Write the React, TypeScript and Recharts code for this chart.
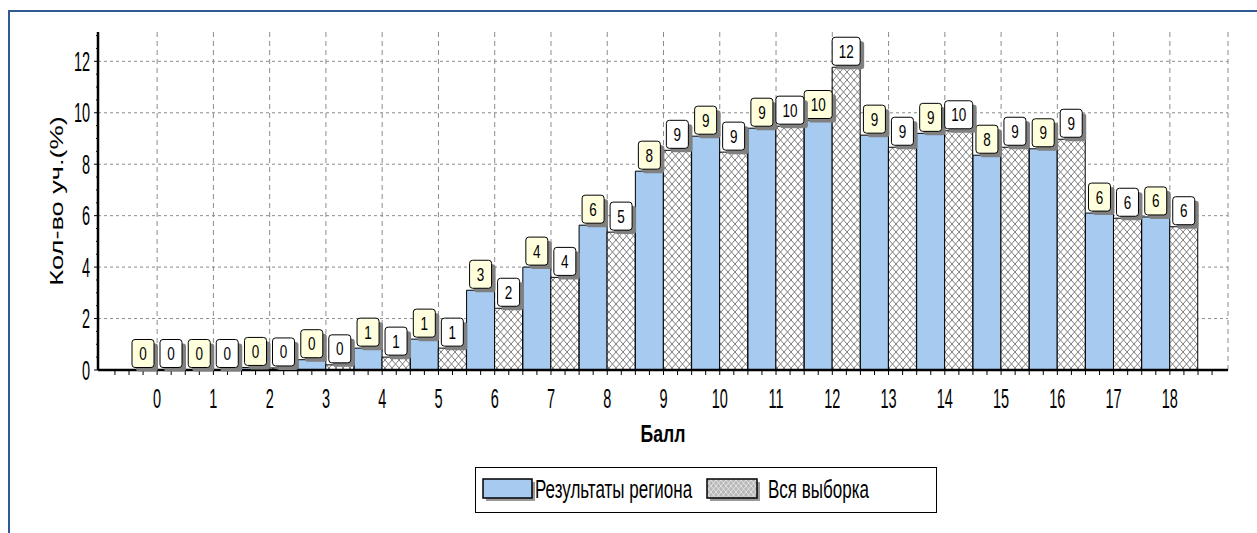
import React from "react";
import { BarChart, Bar, XAxis, YAxis, CartesianGrid, LabelList, Label } from "recharts";

const scores = ["0", "1", "2", "3", "4", "5", "6", "7", "8", "9", "10", "11", "12", "13", "14", "15", "16", "17", "18"];
const regionResults = [0.02, 0.02, 0.1, 0.4, 0.85, 1.2, 3.1, 4.0, 5.63, 7.73, 9.09, 9.4, 9.7, 9.13, 9.2, 8.35, 8.6, 6.1, 5.95];
const wholeSample = [0.02, 0.02, 0.08, 0.2, 0.5, 0.85, 2.4, 3.6, 5.36, 8.54, 8.47, 9.48, 11.77, 8.66, 9.3, 8.66, 8.97, 5.9, 5.57];
const regionLabels = [0, 0, 0, 0, 1, 1, 3, 4, 6, 8, 9, 9, 10, 9, 9, 8, 9, 6, 6];
const sampleLabels = [0, 0, 0, 0, 1, 1, 2, 4, 5, 9, 9, 10, 12, 9, 10, 9, 9, 6, 6];
const yTicks = [0, 2, 4, 6, 8, 10, 12];
const yAllTicks = [0, 0.5, 1, 1.5, 2, 2.5, 3, 3.5, 4, 4.5, 5, 5.5, 6, 6.5, 7, 7.5, 8, 8.5, 9, 9.5, 10, 10.5, 11, 11.5, 12, 12.5, 13];

const data = scores.map((score, i) => ({
  score,
  region: regionResults[i],
  sample: wholeSample[i],
  regionLabel: regionLabels[i],
  sampleLabel: sampleLabels[i],
}));

const W = 1257;
const H = 533;
const MARGIN = { top: 32, right: 29, bottom: 83, left: 0 };
const Y_AXIS_W = 98;
const X_AXIS_H = 80;
const X_PAD = { left: 31, right: 30 };
const BAND = (W - MARGIN.right - Y_AXIS_W - X_PAD.left - X_PAD.right) / scores.length;
const FONT = '"Liberation Sans", Arial, sans-serif';
const BLUE = "#A6CAF0";

function StretchText({ x, y, sx = 1, sy = 1, size, anchor = "middle", weight = "normal", children }: any) {
  return (
    <text
      transform={`translate(${x},${y}) scale(${sx},${sy})`}
      textAnchor={anchor}
      fontSize={size}
      fontWeight={weight}
      fontFamily={FONT}
      fill="#000"
    >
      {children}
    </text>
  );
}

function XTick(props: any) {
  const { x, y, payload } = props;
  const axisY = y - 7;
  const steps = payload.value === scores[0] ? [-3, -2, -1, 0, 1, 2, 3] : [0, 1, 2, 3];
  return (
    <g>
      {steps.map((k) => (
        <line key={k} x1={x + (k * BAND) / 4} x2={x + (k * BAND) / 4} y1={axisY} y2={axisY + 5} stroke="#000" />
      ))}
      <StretchText x={x} y={axisY + 38} sy={1.85} size={14.5}>
        {payload.value}
      </StretchText>
    </g>
  );
}

function YTick(props: any) {
  const { x, y, payload } = props;
  const axisX = x + 6;
  const major = yTicks.includes(payload.value);
  return (
    <g>
      <line x1={axisX - (major ? 4 : 2)} x2={axisX} y1={y} y2={y} stroke="#000" />
      {major && (
        <StretchText x={axisX - 8} y={y + 9.6} sy={1.85} size={14.5} anchor="end">
          {payload.value}
        </StretchText>
      )}
    </g>
  );
}

function YTitle(props: any) {
  const vb = props.viewBox;
  return (
    <text
      transform={`translate(${vb.x + 63},${vb.y + vb.height / 2}) rotate(-90) scale(1.43,1)`}
      textAnchor="middle"
      fontSize={19}
      fontFamily={FONT}
      fill="#000"
    >
      Кол-во уч.(%)
    </text>
  );
}

function XTitle(props: any) {
  const vb = props.viewBox;
  return (
    <StretchText x={vb.x + vb.width / 2} y={vb.y + 72} sy={1.35} size={17.6} weight="bold">
      Балл
    </StretchText>
  );
}

const valueBox = (fill: string) => (props: any) => {
  const vb = props.viewBox || {};
  const x = props.x ?? vb.x;
  const y = props.y ?? vb.y;
  const width = props.width ?? vb.width;
  const value = props.value;
  const w = String(value).length > 1 ? 28 : 22;
  const h = 28;
  const bx = x + width / 2 - w / 2;
  const by = y - h - 2;
  return (
    <g>
      <rect x={bx + 4} y={by + 4} width={w} height={h} rx={3} fill="#808080" />
      <rect x={bx} y={by} width={w} height={h} rx={3} fill={fill} stroke="#000" strokeWidth={1} />
      <StretchText x={bx + w / 2} y={by + 20.5} sy={1.35} size={13.5}>
        {value}
      </StretchText>
    </g>
  );
};

function LegendBox() {
  return (
    <div
      style={{
        position: "absolute",
        left: 475,
        top: 467,
        width: 462,
        height: 46,
        border: "1px solid #000",
        boxSizing: "border-box",
        background: "#fff",
      }}
    >
      <svg width={460} height={44} style={{ display: "block" }}>
        <defs>
          <pattern id="legendHatch" width="5" height="6" patternUnits="userSpaceOnUse">
            <rect width="5" height="6" fill="#b8b8b8" />
            <path d="M0,0 L5,6 M5,0 L0,6" stroke="#e2e2e2" strokeWidth="1" />
          </pattern>
        </defs>
        <rect x={10} y={14} width={49} height={19} fill="#9a9a9a" />
        <rect x={7} y={11} width={49} height={19} fill={BLUE} stroke="#000" strokeWidth={1.5} />
        <StretchText x={59} y={30} sy={1.48} size={17} anchor="start">
          Результаты региона
        </StretchText>
        <rect x={234} y={14} width={50} height={19} fill="#9a9a9a" />
        <rect x={231} y={11} width={50} height={19} fill="url(#legendHatch)" stroke="#000" strokeWidth={1.5} />
        <StretchText x={292} y={30} sy={1.48} size={17} anchor="start">
          Вся выборка
        </StretchText>
      </svg>
    </div>
  );
}

export default function App() {
  return (
    <div style={{ position: "absolute", left: 0, top: 0, width: W, height: H, background: "#fff", overflow: "hidden" }}>
      <div
        style={{
          position: "absolute",
          left: 8,
          top: 10,
          width: W - 8,
          height: H - 10,
          borderTop: "2.5px solid #2F5A96",
          borderLeft: "2.5px solid #2F5A96",
          boxSizing: "border-box",
        }}
      />
      <div style={{ position: "absolute", left: 0, top: 0 }}>
        <BarChart width={W} height={H} data={data} margin={MARGIN} barCategoryGap={0} barGap={0}>
          <defs>
            <pattern id="crossHatch" width="7" height="8" patternUnits="userSpaceOnUse">
              <rect width="7" height="8" fill="#fff" />
              <path d="M0,0 L7,8 M7,0 L0,8" stroke="#7d7d7d" strokeWidth="1" />
            </pattern>
          </defs>
          <CartesianGrid vertical={false} strokeDasharray="3 3" stroke="#8c8c8c" horizontalValues={yTicks} />
          <CartesianGrid horizontal={false} strokeDasharray="5 4" stroke="#8c8c8c" />
          <XAxis
            dataKey="score"
            interval={0}
            height={X_AXIS_H}
            padding={X_PAD}
            axisLine={{ stroke: "#000", strokeWidth: 2.5 }}
            tickLine={false}
            tickSize={5}
            tickMargin={2}
            tick={<XTick />}
          >
            <Label content={<XTitle />} />
          </XAxis>
          <YAxis
            width={Y_AXIS_W}
            domain={[0, 13.14]}
            ticks={yAllTicks}
            interval={0}
            axisLine={{ stroke: "#000", strokeWidth: 2.5 }}
            tickLine={false}
            tickSize={4}
            tickMargin={2}
            tick={<YTick />}
            allowDataOverflow
          >
            <Label content={<YTitle />} />
          </YAxis>
          <Bar dataKey="region" fill={BLUE} stroke="#000" strokeWidth={1} isAnimationActive={false}>
            <LabelList dataKey="regionLabel" content={valueBox("#FFFFDD")} />
          </Bar>
          <Bar dataKey="sample" fill="url(#crossHatch)" stroke="#000" strokeWidth={1} isAnimationActive={false}>
            <LabelList dataKey="sampleLabel" content={valueBox("#FFFFFF")} />
          </Bar>
        </BarChart>
      </div>
      <LegendBox />
    </div>
  );
}
